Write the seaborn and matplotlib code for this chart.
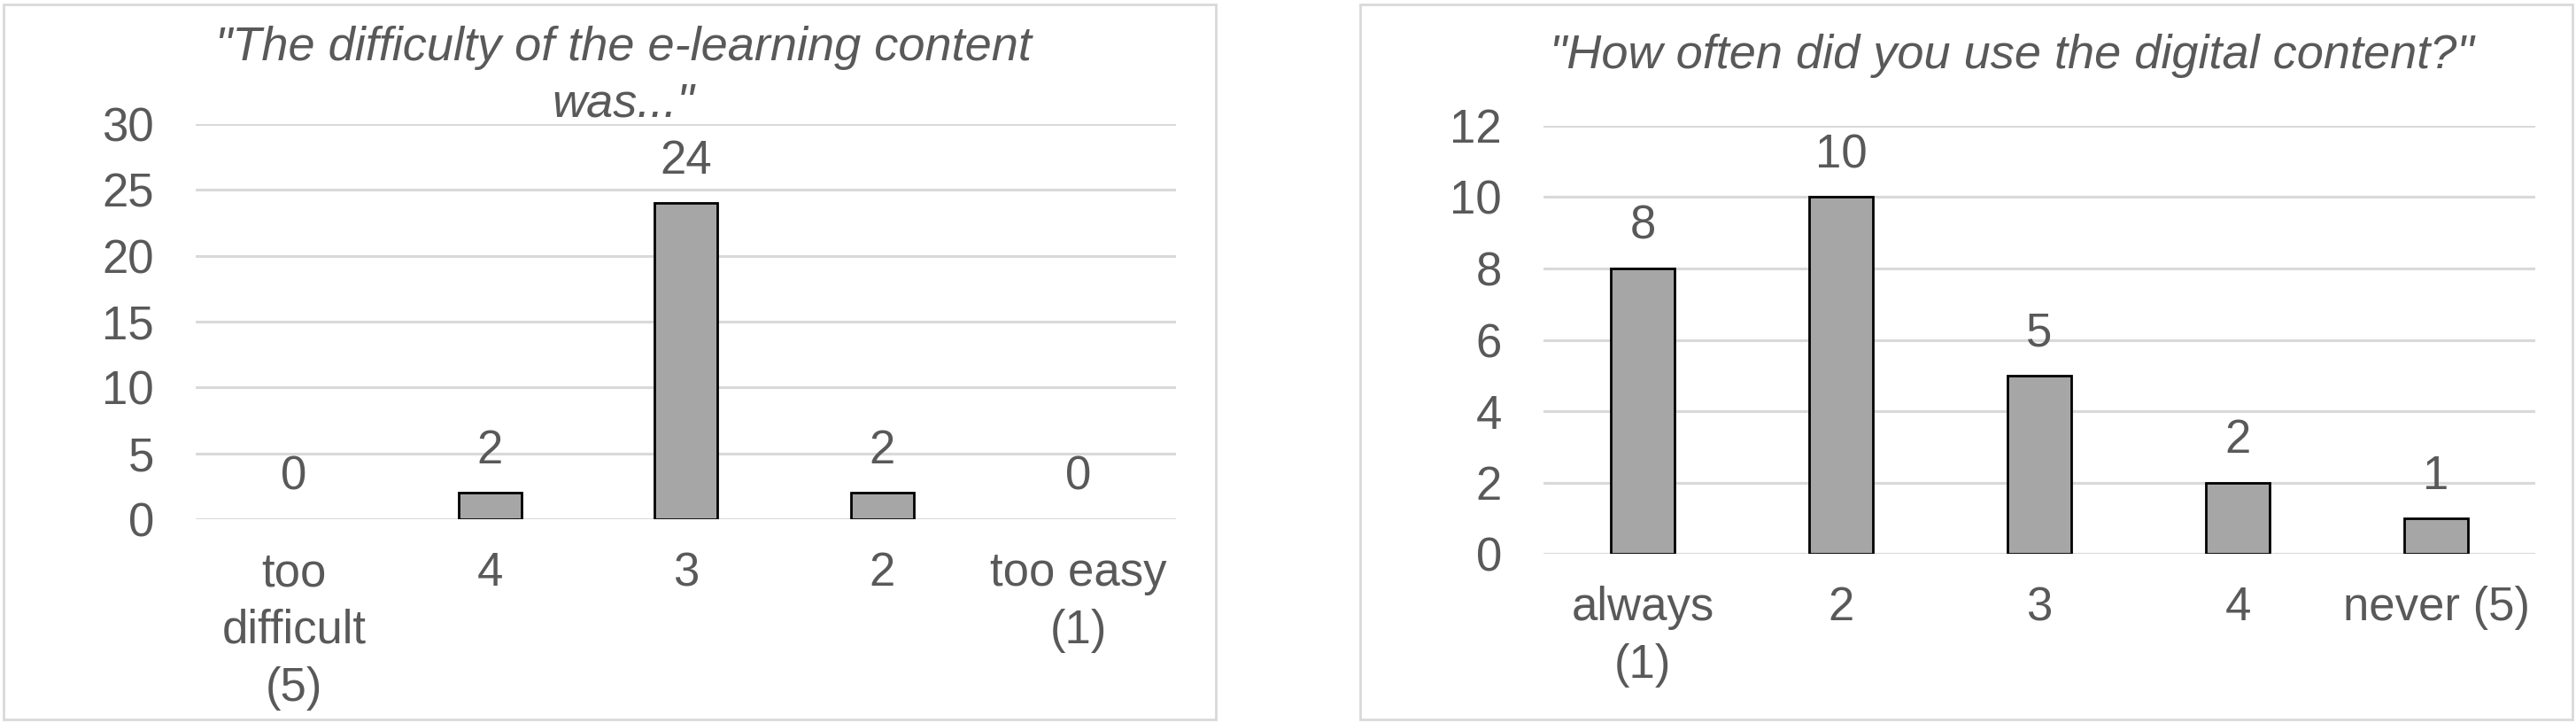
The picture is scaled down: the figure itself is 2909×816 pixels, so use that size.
import pandas as pd
import seaborn as sns
import matplotlib.pyplot as plt
from matplotlib.patches import Rectangle

# difficulty question
difficulty_labels = ["too\ndifficult\n(5)", "4", "3", "2", "too easy\n(1)"]
difficulty_counts = [0, 2, 24, 2, 0]
difficulty_ticks = [0, 5, 10, 15, 20, 25, 30]

# usage question
usage_labels = ["always\n(1)", "2", "3", "4", "never (5)"]
usage_counts = [8, 10, 5, 2, 1]
usage_ticks = [0, 2, 4, 6, 8, 10, 12]

sns.set_style("white")
plt.rcParams["font.family"] = ["Liberation Sans", "DejaVu Sans"]

text_grey = "#595959"
grid_grey = "#D9D9D9"
bar_grey = "#A6A6A6"
fs = 38

fig = plt.figure(figsize=(29.09, 8.16), dpi=100)

# chart frames
for x0 in [4 / 2909, 1536 / 2909]:
    fig.patches.append(Rectangle((x0, 4 / 816), 1369 / 2909, 807 / 816,
                                 transform=fig.transFigure, fill=False,
                                 edgecolor=grid_grey, linewidth=2))

ax1 = fig.add_axes([0.076, 0.2819, 0.3806, 0.5465])
ax2 = fig.add_axes([0.5992, 0.234, 0.385, 0.592])


def draw(ax, labels, counts, ticks):
    df = pd.DataFrame({"answer": labels, "count": counts})
    sns.barplot(data=df, x="answer", y="count", ax=ax, color=bar_grey,
                width=0.32, edgecolor="black", linewidth=2, saturation=1)
    for patch, value in zip(ax.patches, counts):
        if value == 0:
            patch.set_linewidth(0)
    ax.set_xlim(-0.5, len(labels) - 0.5)
    ax.set_ylim(ticks[0], ticks[-1])
    ax.set_yticks(ticks)
    for t in ticks:
        ax.axhline(t, color=grid_grey, linewidth=2.2, zorder=0)
    ax.bar_label(ax.containers[0], fontsize=fs, color=text_grey, padding=16)
    ax.tick_params(axis="y", labelsize=fs, labelcolor=text_grey, pad=34, length=0)
    ax.tick_params(axis="x", labelsize=fs, labelcolor=text_grey, pad=26, length=0)
    for lab in ax.get_xticklabels():
        lab.set_linespacing(1.38)
        lab.set_verticalalignment("top")
    ax.set_xlabel("")
    ax.set_ylabel("")
    sns.despine(ax=ax, left=True, bottom=True)


draw(ax1, difficulty_labels, difficulty_counts, difficulty_ticks)
draw(ax2, usage_labels, usage_counts, usage_ticks)

fig.text(0.242, 1 - 132 / 816, '"The difficulty of the e-learning content\nwas..."',
         ha="center", va="baseline", fontsize=39, style="italic",
         color=text_grey, linespacing=1.35)
fig.text(0.781, 1 - 77 / 816, '"How often did you use the digital content?"',
         ha="center", va="baseline", fontsize=39, style="italic", color=text_grey)

fig.savefig("out.png", dpi=100)
